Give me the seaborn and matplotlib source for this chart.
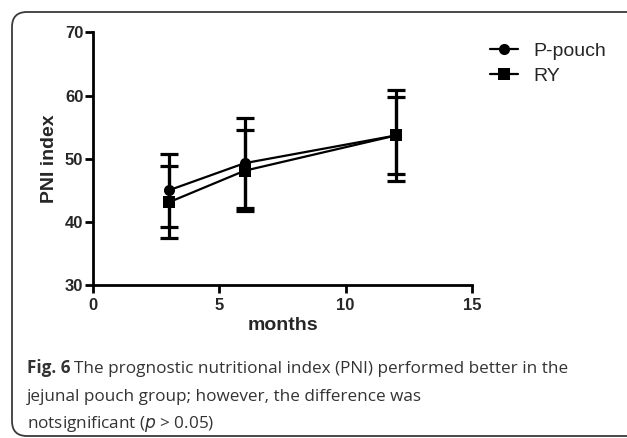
import matplotlib
matplotlib.use("Agg")
import matplotlib.pyplot as plt
from matplotlib.patches import FancyBboxPatch
import pandas as pd
import seaborn as sns

# data
months = [3, 6, 12]
pouch_mean = [45.0, 49.3, 53.7]
pouch_sd = [5.8, 7.1, 7.2]
ry_mean = [43.1, 48.1, 53.7]
ry_sd = [5.7, 6.4, 6.1]
groups = ["P-pouch", "RY"]

df = pd.DataFrame({
    "months": months * 2,
    "PNI": pouch_mean + ry_mean,
    "group": [groups[0]] * 3 + [groups[1]] * 3,
})

sns.set_style("ticks")
plt.rcParams['font.family'] = ['Liberation Sans', 'DejaVu Sans']

fig = plt.figure(figsize=(6.27, 4.38), dpi=100)

# rounded panel border (inches, so the corners stay round)
box = FancyBboxPatch((0.12, 0.02), 7.0, 4.24, boxstyle="round,pad=0,rounding_size=0.15",
                     transform=fig.dpi_scale_trans, fill=False,
                     edgecolor="#3a3a3a", linewidth=1.3)
fig.patches.append(box)

ax = fig.add_axes([0.1483, 0.3493, 0.6045, 0.5765])

for mean, sd in [(pouch_mean, pouch_sd), (ry_mean, ry_sd)]:
    ax.errorbar(months, mean, yerr=sd, fmt="none", ecolor="black",
                elinewidth=2.3, capsize=6.5, capthick=2.3, zorder=2)

sns.lineplot(data=df, x="months", y="PNI", hue="group", style="group",
             markers={"P-pouch": "o", "RY": "s"}, dashes=False,
             palette={"P-pouch": "black", "RY": "black"},
             markersize=8, markeredgewidth=0, linewidth=1.6, ax=ax, zorder=3)

ax.set_xlim(0, 15)
ax.set_ylim(30, 70)
ax.set_xticks([0, 5, 10, 15])
ax.set_yticks([30, 40, 50, 60, 70])
ax.set_xlabel("months", fontsize=14, fontweight="bold", labelpad=3)
ax.set_ylabel("PNI index", fontsize=14, fontweight="bold", labelpad=5)
for lab in ax.get_xticklabels() + ax.get_yticklabels():
    lab.set_fontweight("bold")
ax.tick_params(labelsize=12, width=2, length=6, color="black")
ax.tick_params(axis="y", pad=1)
ax.tick_params(axis="x", pad=3)
for s in ["left", "bottom"]:
    ax.spines[s].set_linewidth(2)
    ax.spines[s].set_color("black")
sns.despine(ax=ax)

leg = ax.legend(loc="upper left", bbox_to_anchor=(1.047, 0.96), frameon=False,
                fontsize=14, handlelength=1.45, handletextpad=0.8,
                labelspacing=0.35, borderpad=0, borderaxespad=0)
leg.set_title(None)

# caption
cap_font = ['Open Sans', 'DejaVu Sans']
cap_color = "#333333"
cap_size = 12.3
x0 = 27 / 627
fig.canvas.draw()
fig_lab = fig.text(x0, 1 - 373 / 438, "Fig. 6", fontsize=cap_size, fontweight="bold",
                   color=cap_color, family=cap_font, va="baseline")
bb = fig_lab.get_window_extent(renderer=fig.canvas.get_renderer())
fig.text((bb.x1 + 4) / fig.bbox.width, 1 - 373 / 438,
         "The prognostic nutritional index (PNI) performed better in the",
         fontsize=cap_size, color=cap_color, family=cap_font, va="baseline")
fig.text(x0, 1 - 401 / 438, "jejunal pouch group; however, the difference was",
         fontsize=cap_size, color=cap_color, family=cap_font, va="baseline")
fig.text(x0, 1 - 428 / 438, "notsignificant ($p$ > 0.05)",
         fontsize=cap_size, color=cap_color, family=cap_font, va="baseline")

fig.savefig("out.png", dpi=100)
